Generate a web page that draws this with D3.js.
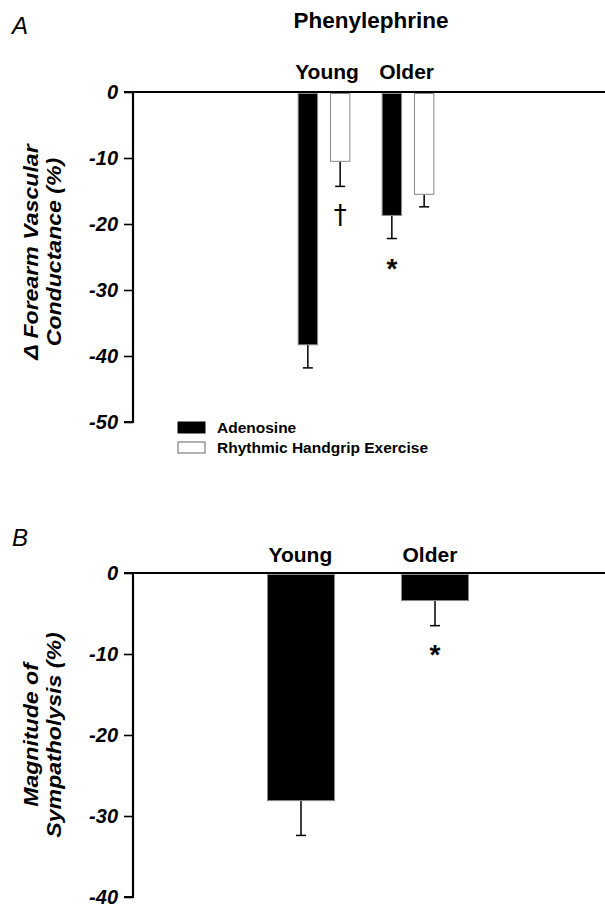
<!DOCTYPE html>
<html>
<head>
<meta charset="utf-8">
<script src="https://cdn.jsdelivr.net/npm/d3@7"></script>
<style>
  body { margin: 0; background: #fff; }
  svg { display: block; font-family: "Liberation Sans", Arial, sans-serif; }
</style>
</head>
<body>
<div id="chart"></div>
<script>
// Panel A data
const groupsA = ["Young", "Older"];
const seriesA = ["Adenosine", "Rhythmic Handgrip Exercise"];
const adenosineMean = [-38.3, -18.7];
const adenosineSem = [3.5, 3.5];
const rheMean = [-10.5, -15.5];
const rheSem = [3.8, 1.9];
const ticksA = [0, -10, -20, -30, -40, -50];

// Panel B data
const groupsB = ["Young", "Older"];
const sympMean = [-28.1, -3.4];
const sympSem = [4.3, 3.1];
const ticksB = [0, -10, -20, -30, -40];

const W = 605, H = 910;
const svg = d3.select("#chart").append("svg")
    .attr("width", W)
    .attr("height", H);

const axisX = 133;

function drawAxis(y, ticks, xEnd) {
    const g = svg.append("g");
    // zero line
    g.append("line")
        .attr("x1", axisX).attr("x2", xEnd)
        .attr("y1", y(0)).attr("y2", y(0))
        .attr("stroke", "#000").attr("stroke-width", 2.2);
    const ax = g.append("g")
        .attr("transform", `translate(${axisX},0)`)
        .call(d3.axisLeft(y).tickValues(ticks).tickSize(9).tickPadding(6).tickFormat(d3.format("d")));
    ax.select(".domain").attr("stroke-width", 2.2).attr("d", `M-9,${y(ticks[0])}H0V${y(ticks[ticks.length - 1])}H-9`);
    ax.selectAll(".tick line").attr("stroke-width", 1.6);
    ax.selectAll(".tick text")
        .attr("font-size", 20)
        .attr("font-weight", "bold")
        .attr("font-style", "italic")
        .attr("font-family", "Liberation Sans, Arial, sans-serif")
        .attr("fill", "#000")
        .text(d => d === 0 ? "0" : "-" + Math.abs(d));
    return g;
}

function errorBar(cx, yTop, yEnd) {
    svg.append("line")
        .attr("x1", cx).attr("x2", cx)
        .attr("y1", yTop).attr("y2", yEnd)
        .attr("stroke", "#000").attr("stroke-width", 1.5);
    svg.append("line")
        .attr("x1", cx - 5).attr("x2", cx + 5)
        .attr("y1", yEnd).attr("y2", yEnd)
        .attr("stroke", "#000").attr("stroke-width", 1.5);
}

function yLabel(lines, cy) {
    lines.forEach((t, i) => {
        svg.append("text")
            .attr("transform", `translate(${38 + i * 23},${cy}) rotate(-90) scale(1.1,1)`)
            .attr("text-anchor", "middle")
            .attr("font-size", 21).attr("font-weight", "bold").attr("font-style", "italic")
            .text(t);
    });
}

// ---------- Panel A ----------
const yA = d3.scaleLinear().domain([0, -50]).range([92, 422]);
const xA = d3.scaleBand().domain(groupsA).range([282, 450]).padding(0);
const xSubA = d3.scaleBand().domain(seriesA).range([0, 84]).paddingInner(0.4).paddingOuter(0.5);

svg.append("text")
    .attr("x", 12).attr("y", 34)
    .attr("font-size", 24).attr("font-style", "italic")
    .text("A");

svg.append("text")
    .attr("x", 371).attr("y", 28)
    .attr("text-anchor", "middle")
    .attr("font-size", 22.5).attr("font-weight", "bold")
    .text("Phenylephrine");

svg.selectAll(".grpA").data(groupsA).enter().append("text")
    .attr("x", d => xA(d) + xSubA(seriesA[0]) - 3)
    .attr("y", 79)
    .attr("font-size", 21).attr("font-weight", "bold")
    .text(d => d);

const barsA = [];
groupsA.forEach((g, i) => {
    barsA.push({ group: g, series: seriesA[0], mean: adenosineMean[i], sem: adenosineSem[i], fill: "#000" });
    barsA.push({ group: g, series: seriesA[1], mean: rheMean[i], sem: rheSem[i], fill: "#fff" });
});

barsA.forEach(b => {
    const x0 = xA(b.group) + xSubA(b.series);
    const w = xSubA.bandwidth();
    errorBar(x0 + w / 2, yA(b.mean), yA(b.mean - b.sem));
    svg.append("rect")
        .attr("x", x0).attr("y", yA(0) + 1.5)
        .attr("width", w).attr("height", yA(b.mean) - yA(0) - 1.5)
        .attr("fill", b.fill)
        .attr("stroke", "#888").attr("stroke-width", 1);
});

drawAxis(yA, ticksA, 605);

// significance marks, A
{
    const b = barsA[1];
    const cx = xA(b.group) + xSubA(b.series) + xSubA.bandwidth() / 2;
    svg.append("text")
        .attr("x", cx).attr("y", yA(b.mean - b.sem) + 38)
        .attr("text-anchor", "middle")
        .attr("font-size", 26).attr("font-family", "DejaVu Sans")
        .text("\u2020");
}
{
    const b = barsA[2];
    const cx = xA(b.group) + xSubA(b.series) + xSubA.bandwidth() / 2;
    svg.append("text")
        .attr("x", cx).attr("y", yA(b.mean - b.sem) + 39)
        .attr("text-anchor", "middle")
        .attr("font-size", 28).attr("font-weight", "bold")
        .text("*");
}

yLabel(["\u0394 Forearm Vascular", "Conductance (%)"], 252);

// legend
const legend = svg.append("g");
seriesA.forEach((s, i) => {
    legend.append("rect")
        .attr("x", 178).attr("y", 422 + i * 20)
        .attr("width", 27).attr("height", 11)
        .attr("fill", i === 0 ? "#000" : "#fff")
        .attr("stroke", i === 0 ? "#000" : "#666").attr("stroke-width", 1);
    legend.append("text")
        .attr("x", 217).attr("y", 433 + i * 20)
        .attr("font-size", 15.5).attr("font-weight", "bold")
        .text(s);
});

// ---------- Panel B ----------
const yB = d3.scaleLinear().domain([0, -40]).range([573, 897]);
const xB = d3.scaleBand().domain(groupsB).range([234, 502]).paddingInner(0.5).paddingOuter(0.25);

svg.append("text")
    .attr("x", 12).attr("y", 546)
    .attr("font-size", 24).attr("font-style", "italic")
    .text("B");

svg.selectAll(".grpB").data(groupsB).enter().append("text")
    .attr("x", d => xB(d) + 1)
    .attr("y", 562)
    .attr("font-size", 21).attr("font-weight", "bold")
    .text(d => d);

groupsB.forEach((g, i) => {
    const x0 = xB(g), w = xB.bandwidth();
    errorBar(x0 + w / 2, yB(sympMean[i]), yB(sympMean[i] - sympSem[i]));
    svg.append("rect")
        .attr("x", x0).attr("y", yB(0) + 1.5)
        .attr("width", w).attr("height", yB(sympMean[i]) - yB(0) - 1.5)
        .attr("fill", "#000")
        .attr("stroke", "#888").attr("stroke-width", 1);
});

drawAxis(yB, ticksB, 605);

svg.append("text")
    .attr("x", xB("Older") + xB.bandwidth() / 2)
    .attr("y", yB(sympMean[1] - sympSem[1]) + 38)
    .attr("text-anchor", "middle")
    .attr("font-size", 28).attr("font-weight", "bold")
    .text("*");

yLabel(["Magnitude of", "Sympatholysis (%)"], 735);
</script>
</body>
</html>
